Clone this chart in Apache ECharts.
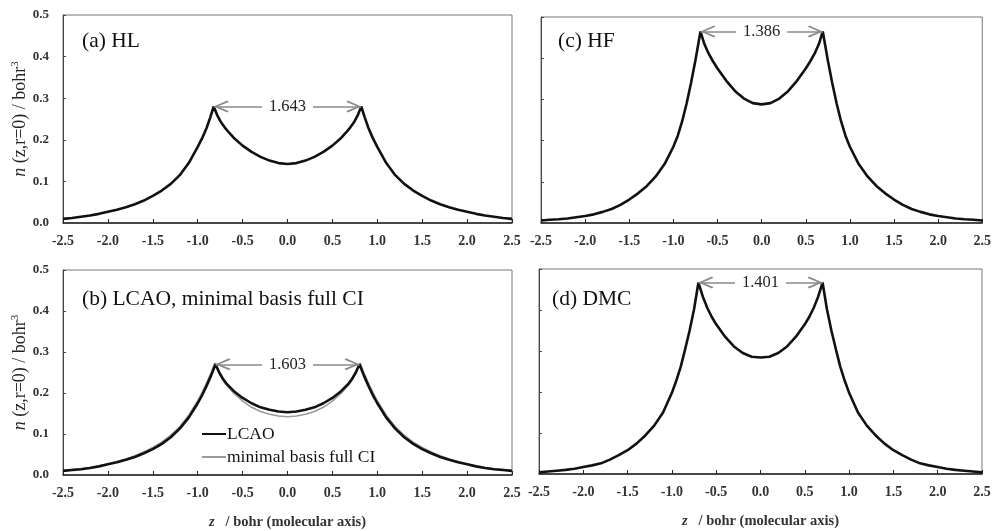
<!DOCTYPE html>
<html><head><meta charset="utf-8">
<script src="https://cdn.jsdelivr.net/npm/echarts@6/dist/echarts.min.js"></script>
<style>html,body{margin:0;padding:0;background:#fff}#c{width:994px;height:531px}</style>
</head><body><div id="c"></div>
<script>
// ---- data ----
var zHL = [-2.5,-2.4,-2.3,-2.2,-2.1,-2.0,-1.9,-1.8,-1.7,-1.6,-1.5,-1.4,-1.3,-1.2,-1.1,-1.0,-0.95,-0.9,-0.86,-0.8215,-0.78,-0.74,-0.7,-0.65,-0.6,-0.5,-0.4,-0.3,-0.2,-0.1,0,
  0.1,0.2,0.3,0.4,0.5,0.6,0.65,0.7,0.74,0.78,0.8215,0.86,0.9,0.95,1.0,1.1,1.2,1.3,1.4,1.5,1.6,1.7,1.8,1.9,2.0,2.1,2.2,2.3,2.4,2.5];
var nHL = [0.010,0.012,0.015,0.018,0.022,0.027,0.032,0.038,0.045,0.054,0.065,0.078,0.094,0.115,0.144,0.183,0.204,0.229,0.254,0.280,0.258,0.242,0.230,0.217,0.205,0.186,0.171,0.159,0.150,0.144,0.142,
  0.144,0.150,0.159,0.171,0.186,0.205,0.217,0.230,0.242,0.258,0.280,0.254,0.229,0.204,0.183,0.144,0.115,0.094,0.078,0.065,0.054,0.045,0.038,0.032,0.027,0.022,0.018,0.015,0.012,0.010];

var zLCAO = [-2.5,-2.4,-2.3,-2.2,-2.1,-2.0,-1.9,-1.8,-1.7,-1.6,-1.5,-1.4,-1.3,-1.2,-1.1,-1.0,-0.95,-0.9,-0.85,-0.8015,-0.76,-0.72,-0.68,-0.6,-0.5,-0.4,-0.3,-0.2,-0.1,0,
  0.1,0.2,0.3,0.4,0.5,0.6,0.68,0.72,0.76,0.8015,0.85,0.9,0.95,1.0,1.1,1.2,1.3,1.4,1.5,1.6,1.7,1.8,1.9,2.0,2.1,2.2,2.3,2.4,2.5];
var nLCAO = [0.010,0.012,0.014,0.017,0.021,0.026,0.031,0.037,0.044,0.053,0.063,0.076,0.092,0.113,0.140,0.175,0.195,0.218,0.243,0.270,0.250,0.235,0.223,0.205,0.188,0.175,0.165,0.159,0.155,0.153,
  0.155,0.159,0.165,0.175,0.188,0.205,0.223,0.235,0.250,0.270,0.243,0.218,0.195,0.175,0.140,0.113,0.092,0.076,0.063,0.053,0.044,0.037,0.031,0.026,0.021,0.017,0.014,0.012,0.010];

var zCI = [-2.5,-2.4,-2.3,-2.2,-2.1,-2.0,-1.9,-1.8,-1.7,-1.6,-1.5,-1.4,-1.3,-1.2,-1.1,-1.0,-0.95,-0.9,-0.85,-0.81,-0.77,-0.73,-0.69,-0.6,-0.5,-0.4,-0.3,-0.2,-0.1,0,
  0.1,0.2,0.3,0.4,0.5,0.6,0.69,0.73,0.77,0.81,0.85,0.9,0.95,1.0,1.1,1.2,1.3,1.4,1.5,1.6,1.7,1.8,1.9,2.0,2.1,2.2,2.3,2.4,2.5];
var nCI = [0.011,0.013,0.015,0.018,0.022,0.027,0.033,0.039,0.047,0.056,0.067,0.080,0.097,0.118,0.146,0.181,0.202,0.225,0.250,0.273,0.252,0.235,0.222,0.200,0.180,0.165,0.155,0.148,0.144,0.142,
  0.144,0.148,0.155,0.165,0.180,0.200,0.222,0.235,0.252,0.273,0.250,0.225,0.202,0.181,0.146,0.118,0.097,0.080,0.067,0.056,0.047,0.039,0.033,0.027,0.022,0.018,0.015,0.013,0.011];

var zHF = [-2.5,-2.4,-2.3,-2.2,-2.1,-2.0,-1.9,-1.8,-1.7,-1.6,-1.5,-1.4,-1.3,-1.2,-1.1,-1.0,-0.95,-0.9,-0.85,-0.8,-0.75,-0.693,-0.65,-0.6,-0.55,-0.5,-0.4,-0.3,-0.2,-0.1,0,
  0.1,0.2,0.3,0.4,0.5,0.55,0.6,0.65,0.693,0.75,0.8,0.85,0.9,0.95,1.0,1.1,1.2,1.3,1.4,1.5,1.6,1.7,1.8,1.9,2.0,2.1,2.2,2.3,2.4,2.5];
var nHF = [0.006,0.008,0.009,0.011,0.014,0.017,0.021,0.027,0.034,0.044,0.057,0.072,0.090,0.113,0.143,0.185,0.212,0.247,0.290,0.340,0.395,0.465,0.435,0.411,0.392,0.375,0.345,0.320,0.302,0.291,0.288,
  0.291,0.302,0.320,0.345,0.375,0.392,0.411,0.435,0.465,0.395,0.340,0.290,0.247,0.212,0.185,0.143,0.113,0.090,0.072,0.057,0.044,0.034,0.027,0.021,0.017,0.014,0.011,0.009,0.008,0.006];

var zDMC = [-2.5,-2.4,-2.3,-2.2,-2.1,-2.0,-1.9,-1.8,-1.7,-1.6,-1.5,-1.4,-1.3,-1.2,-1.1,-1.0,-0.95,-0.9,-0.85,-0.8,-0.75,-0.7005,-0.65,-0.6,-0.55,-0.5,-0.4,-0.3,-0.2,-0.1,0,
  0.1,0.2,0.3,0.4,0.5,0.55,0.6,0.65,0.7005,0.75,0.8,0.85,0.9,0.95,1.0,1.1,1.2,1.3,1.4,1.5,1.6,1.7,1.8,1.9,2.0,2.1,2.2,2.3,2.4,2.5];
var nDMC = [0.004,0.006,0.008,0.010,0.013,0.017,0.021,0.026,0.035,0.046,0.058,0.074,0.094,0.118,0.150,0.198,0.228,0.262,0.305,0.350,0.402,0.467,0.432,0.405,0.383,0.365,0.335,0.311,0.295,0.286,0.284,
  0.286,0.295,0.311,0.335,0.365,0.383,0.405,0.432,0.467,0.402,0.350,0.305,0.262,0.228,0.198,0.150,0.118,0.094,0.074,0.058,0.046,0.035,0.026,0.021,0.017,0.013,0.010,0.008,0.006,0.004];

var panelTitles = ['(a) HL', '(c) HF', '(b) LCAO, minimal basis full CI', '(d) DMC'];
var sepLabels = ['1.643', '1.386', '1.603', '1.401'];
var peakZ = [0.8215, 0.693, 0.8015, 0.7005];
var peakN = [0.280, 0.465, 0.270, 0.467];
var legendNames = ['LCAO', 'minimal basis full CI'];
var yTitle = '{i|n} (z,r=0) / bohr{s|3}';
var xTitle = '{i|z}   / bohr (molecular axis)';

// ---- chart ----
var FONT = 'Liberation Serif';
function pairs(z, v) { return z.map(function (x, i) { return [x, v[i]]; }); }
var grids = [
  {left: 63, top: 15, width: 449, height: 208},
  {left: 541, top: 17, width: 447, height: 206},
  {left: 63, top: 270, width: 449, height: 205},
  {left: 539, top: 269, width: 443, height: 205}
];
var chart = echarts.init(document.getElementById('c'), null, {renderer: 'canvas'});
var xAxes = [], yAxes = [];
grids.forEach(function (g, i) {
  g.show = true; g.borderColor = '#777'; g.borderWidth = 1; g.backgroundColor = '#fff';
  var bottomRow = i >= 2, leftCol = (i % 2 === 0);
  xAxes.push({
    type: 'value', gridIndex: i, min: -2.5, max: 2.5, interval: 0.5,
    axisLine: {show: true, onZero: false, lineStyle: {color: '#222', width: 1.5}},
    axisTick: {show: true, inside: true, length: 4, lineStyle: {color: '#222'}},
    splitLine: {show: false},
    axisLabel: {formatter: function (v) { return v.toFixed(1); }, fontFamily: FONT, fontSize: 14, fontWeight: 'bold', color: '#333', margin: 11, showMinLabel: true, showMaxLabel: true},
    name: bottomRow ? xTitle : '', nameLocation: 'middle', nameGap: 40,
    nameTextStyle: {fontFamily: FONT, fontSize: 14.5, fontWeight: 'bold', color: '#333',
      rich: {i: {fontFamily: FONT, fontSize: 14.5, fontStyle: 'italic', fontWeight: 'bold', color: '#333'}}}
  });
  yAxes.push({
    type: 'value', gridIndex: i, min: 0, max: 0.5, interval: 0.1,
    axisLine: {show: true, onZero: false, lineStyle: {color: '#444', width: 1}},
    axisTick: {show: true, inside: true, length: 3, lineStyle: {color: '#444'}},
    splitLine: {show: false},
    axisLabel: {show: leftCol, formatter: function (v) { return v.toFixed(1); }, fontFamily: FONT, fontSize: 13, fontWeight: 'bold', color: '#333', margin: 14},
    name: leftCol ? yTitle : '', nameLocation: 'middle', nameGap: 29, nameRotate: 90,
    nameTextStyle: {fontFamily: FONT, fontSize: 18, fontWeight: 'normal', color: '#222',
      rich: {i: {fontFamily: FONT, fontSize: 18, fontStyle: 'italic', color: '#222'},
             s: {fontFamily: FONT, fontSize: 11, color: '#222', padding: [0, 0, 9, 0]}}}
  });
});
var chevron = 'path://M5,0 L10,9 L8.8,10 L5,2.6 L1.2,10 L0,9 Z';
function arrowMark(k) {
  return {
    silent: true, animation: false,
    symbol: [chevron, chevron], symbolSize: [12, 15], symbolOffset: [[0, 7.5], [0, 7.5]],
    lineStyle: {color: '#8a8a8a', width: 1.6, type: 'solid'},
    label: {show: true, position: 'middle', formatter: sepLabels[k], fontFamily: FONT, fontSize: 16.5, color: '#222',
      backgroundColor: '#fff', padding: [0, 7], verticalAlign: 'middle', distance: 0},
    data: [[{coord: [-peakZ[k], peakN[k]]}, {coord: [peakZ[k], peakN[k]]}]]
  };
}
function lineSeries(name, gi, data, color, width, mark) {
  var s = {name: name, type: 'line', xAxisIndex: gi, yAxisIndex: gi, data: data, showSymbol: false, symbol: 'none',
    smooth: false, animation: false, lineStyle: {color: color, width: width}, itemStyle: {color: color}};
  if (mark) s.markLine = mark;
  return s;
}
var series = [
  lineSeries('HL', 0, pairs(zHL, nHL), '#111', 2.6, arrowMark(0)),
  lineSeries('HF', 1, pairs(zHF, nHF), '#111', 2.6, arrowMark(1)),
  lineSeries(legendNames[1], 2, pairs(zCI, nCI), '#9a9a9a', 1.6, null),
  lineSeries(legendNames[0], 2, pairs(zLCAO, nLCAO), '#111', 2.6, arrowMark(2)),
  lineSeries('DMC', 3, pairs(zDMC, nDMC), '#111', 2.6, arrowMark(3))
];
var titles = [
  {left: 82, top: 30}, {left: 558, top: 30}, {left: 82, top: 288}, {left: 552, top: 288}
].map(function (p, i) {
  return {text: panelTitles[i], left: p.left, top: p.top, padding: 0,
    textStyle: {fontFamily: FONT, fontSize: 21.5, fontWeight: 'normal', color: '#111'}};
});
chart.setOption({
  backgroundColor: '#fff',
  animation: false,
  title: titles,
  grid: grids,
  xAxis: xAxes,
  yAxis: yAxes,
  legend: {
    left: 201, top: 425, orient: 'vertical', itemWidth: 24, itemHeight: 14, itemGap: 5, padding: 0,
    itemStyle: {opacity: 0},
    data: [{name: legendNames[0]}, {name: legendNames[1]}],
    textStyle: {fontFamily: FONT, fontSize: 17.5, color: '#111', padding: [0, 0, 0, -4]},
    selectedMode: false
  },
  series: series
});
</script>
</body></html>
